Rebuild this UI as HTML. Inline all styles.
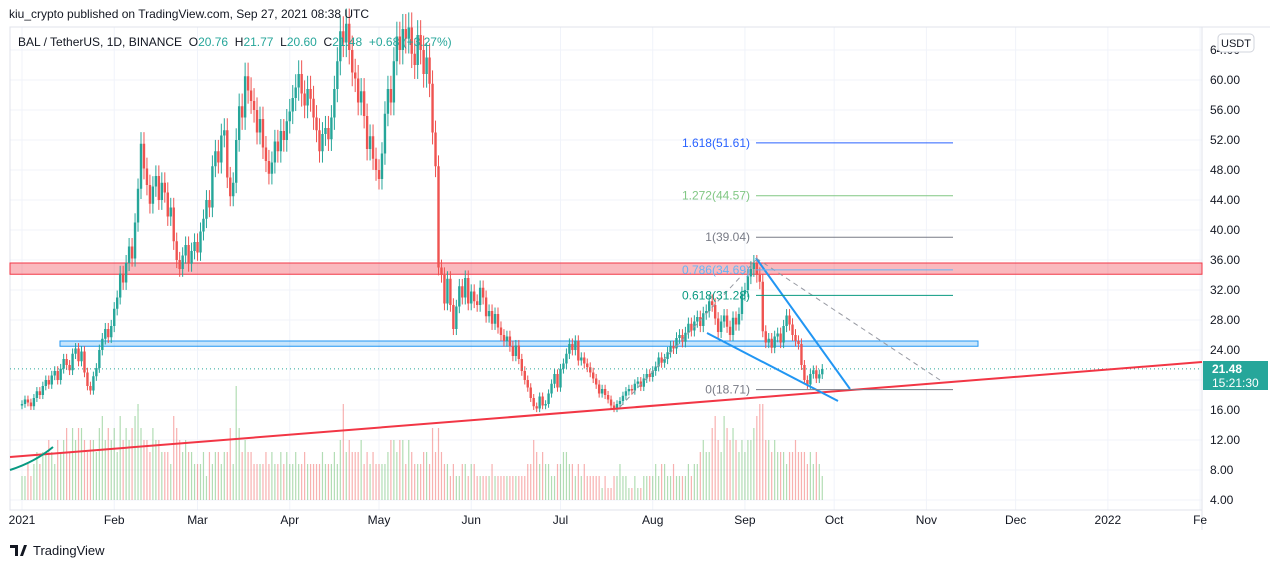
<!DOCTYPE html>
<html><head><meta charset="utf-8"><style>
body{margin:0;background:#fff;font-family:"Liberation Sans",sans-serif;}
#wrap{position:relative;width:1280px;height:568px;overflow:hidden;background:#fff}
svg text{font-family:"Liberation Sans",sans-serif}
</style></head><body>
<div id="wrap">
<svg id="c" width="1280" height="568"></svg>
</div>
<script>
const closes=[16.8,17.4,17.0,16.5,17.6,18.5,18.0,19.2,20.0,19.4,20.6,21.2,20.0,21.5,22.8,22.0,21.3,23.5,24.2,22.5,23.8,21.0,19.2,18.6,20.5,21.6,24.0,25.5,26.8,25.7,27.2,
29.5,31.0,34.2,33.0,35.6,37.8,36.2,41.0,45.5,51.5,48.2,46.0,43.5,45.8,47.2,44.0,46.3,45.0,41.8,43.0,38.5,36.0,34.8,36.6,38.0,35.5,37.2,38.4,
37.0,39.8,41.5,44.0,43.0,48.5,50.5,49.0,52.6,53.3,47.0,44.5,46.3,52.0,56.5,55.0,60.5,58.6,57.2,56.0,53.0,54.8,51.0,49.2,47.5,49.0,51.8,50.5,53.2,52.0,54.5,
55.8,57.6,59.0,60.8,58.2,56.6,58.8,57.5,55.0,53.3,50.5,52.8,53.6,52.1,55.0,58.8,62.5,66.5,65.0,67.5,64.0,61.0,60.2,57.0,58.5,55.2,50.8,52.5,49.5,48.0,
46.8,50.2,55.5,58.8,57.0,62.5,65.8,64.0,66.8,65.5,67.0,63.5,62.0,66.0,64.0,60.8,63.0,59.5,53.0,48.5,35.0,34.0,30.2,33.5,30.0,26.8,29.8,32.5,31.0,33.6,30.2,
31.8,30.5,30.0,32.3,31.0,28.5,29.2,27.5,28.8,27.0,26.0,25.2,25.8,24.5,23.2,24.6,22.8,21.2,20.0,19.0,17.6,16.5,16.2,17.8,16.6,16.8,18.2,19.5,20.8,19.0,
21.5,22.2,23.5,24.8,24.0,25.2,22.6,23.0,22.2,21.7,21.0,20.2,19.4,18.2,18.8,18.0,17.4,16.6,16.2,16.8,17.2,17.9,18.5,18.8,18.6,19.5,19.8,19.1,20.2,20.8,20.4,
21.2,21.8,23.0,22.3,22.8,23.7,24.5,24.2,25.6,26.0,25.1,26.3,27.5,26.6,27.8,28.4,27.2,28.9,29.2,30.5,30.0,28.2,26.4,27.8,28.6,27.1,26.0,28.3,27.4,28.8,31.5,
32.0,33.8,34.8,35.6,34.0,33.1,26.5,25.0,25.5,24.3,25.8,26.2,25.0,27.2,28.6,27.4,26.0,25.2,24.8,22.0,20.0,19.4,20.8,21.3,20.2,20.76,21.48];
const volumes=[2,2,3,2,3,4,3,4,4,5,4,3,5,4,5,6,4,6,5,6,6,5,4,5,5,4,6,7,5,6,5,
6,4,7,5,6,5,6,7,8,6,5,5,4,6,5,5,4,4,4,3,7,6,5,4,5,4,4,3,
3,3,4,2,4,3,4,4,3,4,4,6,3,9.5,6,4,5,4,4,3,3,3,3,4,3,4,3,3,4,3,4,
3,3,4,3,3,4,3,3,3,3,3,4,3,3,3,4,3,5,8,4,5,4,4,4,5,3,4,3,4,3,
3,3,3,4,5,5,4,5,5,3,5,4,3,3,3,4,4,3,6,4,6,4,3,3,2,3,2,2,3,3,2,
3,3,2,2,2,2,2,3,2,2,2,2,2,2,2,2,2,2,2,3,3,5,4,3,4,3,3,2,2,3,
3,4,4,3,3,2,3,2,3,2,2,2,2,2,1,2,1,1,2,2,3,2,2,1,1,2,1,1,2,2,2,
2,3,2,3,3,2,2,3,2,2,2,2,3,2,3,3,4,5,4,4,6,7,5,4,7,6,5,6,5,4,5,
4,5,5,6,7,8,8,5,5,4,5,4,4,4,3,4,4,5,4,4,4,3,4,3,4,3,2];
const priceTicks=[64,60,56,52,48,44,40,36,32,28,24,20,16,12,8,4];
const monthLabels=["2021","Feb","Mar","Apr","May","Jun","Jul","Aug","Sep","Oct","Nov","Dec","2022","Fe"];
const monthDays=[0,31,59,90,120,151,181,212,243,273,304,334,365,396];
const fibLevels=[1.618,1.272,1,0.786,0.618,0];
const fibPrices=[51.61,44.57,39.04,34.69,31.28,18.71];
const fibColors=["#2962ff","#81c784","#787b86","#64b5f6","#089981","#787b86"];

const X=d=>22+d*2.975;
const Y=p=>80+(60-p)*7.5;
const svg=document.getElementById('c');
const NS="http://www.w3.org/2000/svg";
function mk(tag,at,parent){const e=document.createElementNS(NS,tag);for(const k in at)e.setAttribute(k,at[k]);(parent||svg).appendChild(e);return e;}

const grid=mk('g',{});


priceTicks.forEach(p=>{mk('line',{x1:10,x2:1202,y1:Y(p),y2:Y(p),stroke:'#f0f3fa','stroke-width':1},grid);});
monthDays.forEach(d=>{if(X(d)<1202)mk('line',{x1:X(d),x2:X(d),y1:27,y2:510,stroke:'#f0f3fa','stroke-width':1},grid);});
mk('rect',{x:10,y:27,width:1192,height:483,fill:'none',stroke:'#e0e3eb'});
mk('line',{x1:10,x2:1270,y1:27,y2:27,stroke:'#e0e3eb'});
mk('line',{x1:1202,x2:1202,y1:27,y2:530,stroke:'#e0e3eb'});
mk('line',{x1:10,x2:1202,y1:510,y2:510,stroke:'#e0e3eb'});

const vg=mk('g',{});


volumes.forEach((v,i)=>{const o=i?closes[i-1]:16.6;const up=closes[i]>=o;
 const r=mk('rect',{x:X(i)-0.6,y:500-v*12,width:1.2,height:v*12,fill:up?'rgba(102,187,106,0.5)':'rgba(239,83,80,0.45)'},vg);
 
 });

const rz=mk('rect',{x:10,y:Y(35.6),width:1192,height:Y(34.1)-Y(35.6),fill:'rgba(242,54,69,0.35)',stroke:'#f23645','stroke-width':1});


const bz=mk('rect',{x:60,y:Y(25.2),width:918,height:Y(24.5)-Y(25.2),fill:'rgba(33,150,243,0.25)',stroke:'#2196f3','stroke-width':1});



const cg=mk('g',{});


closes.forEach((c,i)=>{const o=i?closes[i-1]:16.6;const up=c>=o;const col=up?'#26a69a':'#ef5350';
 const hi=Math.max(o,c)*1.03,lo=Math.min(o,c)*0.97;
 mk('line',{x1:X(i),x2:X(i),y1:Y(hi),y2:Y(lo),stroke:col,'stroke-width':1},cg);
 const b=mk('rect',{x:X(i)-1.2,y:Y(Math.max(o,c)),width:2.4,height:Math.max(1,Math.abs(Y(o)-Y(c))),fill:col},cg);
 
 });

mk('line',{x1:10,x2:1202,y1:Y(21.48),y2:Y(21.48),stroke:'#26a69a','stroke-dasharray':'1,3','stroke-width':1});

const tl=mk('line',{x1:10,y1:457,x2:1202,y2:362,stroke:'#f23645','stroke-width':2});


const arc=mk('path',{d:'M10 470 Q35 462 53 447',fill:'none',stroke:'#089981','stroke-width':2});



const w1=mk('line',{x1:756,y1:258,x2:850,y2:389,stroke:'#2196f3','stroke-width':2});


const w2=mk('line',{x1:707,y1:333,x2:838,y2:401,stroke:'#2196f3','stroke-width':2});


mk('line',{x1:756,y1:258,x2:940,y2:380,stroke:'#9598a1','stroke-dasharray':'5,4','stroke-width':1});
mk('line',{x1:620,y1:407,x2:756,y2:260,stroke:'#9598a1','stroke-dasharray':'5,4','stroke-width':1});

const fg=mk('g',{});


fibLevels.forEach((l,i)=>{const y=Y(fibPrices[i]);
 mk('line',{x1:756,x2:953,y1:y,y2:y,stroke:fibColors[i],'stroke-width':1},fg);
 const t=mk('text',{x:750,y:y+4,'text-anchor':'end','font-size':12,fill:fibColors[i]},fg);
 t.textContent=l+'('+fibPrices[i].toFixed(2)+')';
 
 });

const pa=mk('g',{});


priceTicks.forEach(p=>{const t=mk('text',{x:1210,y:Y(p)+4,'font-size':12,fill:'#131722'},pa);t.textContent=p.toFixed(2);});
mk('rect',{x:1218,y:34,width:36,height:18,rx:4,fill:'#fff',stroke:'#d1d4dc'},pa);
const us=mk('text',{x:1236,y:47,'text-anchor':'middle','font-size':11,fill:'#131722'},pa);us.textContent='USDT';
mk('rect',{x:1203,y:361,width:65,height:29,fill:'#26a69a'},pa);
const p1=mk('text',{x:1212,y:373,'font-size':12,fill:'#fff','font-weight':'bold'},pa);p1.textContent='21.48';
const p2=mk('text',{x:1212,y:387,'font-size':12,fill:'#fff'},pa);p2.textContent='15:21:30';

const ta=mk('g',{});


monthLabels.forEach((m,i)=>{const t=mk('text',{x:X(monthDays[i]),y:524,'text-anchor':'middle','font-size':12,fill:'#131722'},ta);t.textContent=m;});

const h=mk('text',{x:9,y:18,'font-size':12,fill:'#131722'});h.textContent='kiu_crypto published on TradingView.com, Sep 27, 2021 08:38 UTC';

const lg=mk('text',{x:18,y:46,'font-size':12,fill:'#131722'});

lg.innerHTML='BAL / TetherUS, 1D, BINANCE  O<tspan fill="#26a69a">20.76</tspan>  H<tspan fill="#26a69a">21.77</tspan>  L<tspan fill="#26a69a">20.60</tspan>  C<tspan fill="#26a69a">21.48  +0.68 (+3.27%)</tspan>';
lg.setAttribute('xml:space','preserve');lg.style.whiteSpace='pre';
const logo=mk('text',{x:33,y:555,'font-size':13,fill:'#131722'});logo.textContent='TradingView';

mk('path',{d:'M10 545 h8 v11 h-3 v-8 h-5z M20 556 l4 -11 h3 l-4 11z',fill:'#131722'});
</script>
</body></html>
